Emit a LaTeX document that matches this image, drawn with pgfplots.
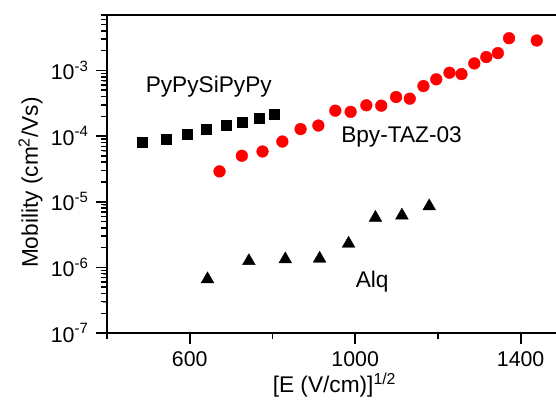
\documentclass[border=0pt]{standalone}
\usepackage{pgfplots}
\pgfplotsset{compat=1.18}
\usepackage{fontspec}
\setmainfont{Liberation Sans}
\begin{document}
\fontsize{17}{20}\selectfont
\begin{tikzpicture}
\begin{semilogyaxis}[name=ax, scale only axis, width=341.25pt, height=238.5pt,
  xmin=400, xmax=1500, ymin=1e-7, ymax=7e-3,
  xtick={600,1000,1400},
  ytick={1e-7,1e-6,1e-5,1e-4,1e-3},
  extra x ticks={400,800,1200},
  extra x tick labels={},
  extra x tick style={major tick length=4.5pt, every major tick/.style={draw=black,line width=1.1pt}},
  extra y ticks={2e-7,3e-7,4e-7,5e-7,6e-7,7e-7,8e-7,9e-7,
               2e-6,3e-6,4e-6,5e-6,6e-6,7e-6,8e-6,9e-6,
               2e-5,3e-5,4e-5,5e-5,6e-5,7e-5,8e-5,9e-5,
               2e-4,3e-4,4e-4,5e-4,6e-4,7e-4,8e-4,9e-4,
               2e-3,3e-3,4e-3,5e-3,6e-3,7e-3},
  extra y tick labels={},
  extra y tick style={major tick length=4.5pt, every major tick/.style={draw=black,line width=1.1pt}},
  tick pos=left, tick align=outside,
  major tick length=8pt,
  axis line style={line width=1.4pt},
  every major tick/.style={draw=black,line width=1.3pt},
  /pgf/number format/assume math mode=true,
  xticklabel style={/pgf/number format/1000 sep={}},
  log number format basis/.code 2 args={#1\textsuperscript{\pgfmathprintnumber{#2}}},
  tick label style={font=\fontsize{16}{19}\selectfont},
  label style={font=\fontsize{17}{20}\selectfont},
  xlabel={[E (V/cm)]\textsuperscript{1/2}},
  ylabel={Mobility (cm\textsuperscript{2}/Vs)},
  xlabel style={at={(axis description cs:0.5,-0.188)}, anchor=base},
  ylabel style={at={(axis description cs:-0.1517,0.473)}, anchor=base},
]
\addplot[only marks, mark=square*, mark size=3.75pt, black, mark options={line width=0.3pt}] coordinates {
(484,8.2e-5) (542,9.1e-5) (595,1.08e-4) (641,1.29e-4) (687,1.48e-4) (728,1.65e-4) (767,1.90e-4) (805,2.18e-4)
};
\addplot[only marks, mark=*, mark size=4.4pt, red, mark options={draw=red, fill=red, line width=0.3pt}] coordinates {
(672,2.90e-5) (726,5.02e-5) (776,5.83e-5) (824,8.27e-5) (868,1.28e-4) (911,1.45e-4) (952,2.44e-4) (989,2.34e-4)
(1027,2.95e-4) (1063,2.91e-4) (1099,3.94e-4) (1132,3.72e-4) (1165,5.79e-4) (1196,7.33e-4) (1228,9.23e-4)
(1257,8.81e-4) (1288,1.28e-3) (1317,1.60e-3) (1345,1.84e-3) (1372,3.10e-3) (1439,2.86e-3)
};
\addplot[only marks, mark=triangle*, mark size=5.5pt, black, mark options={line width=0.3pt}] coordinates {
(643,6.6e-7) (743,1.25e-6) (831,1.33e-6) (914,1.36e-6) (984,2.30e-6) (1049,5.70e-6) (1113,6.18e-6) (1179,8.55e-6)
};
\node[font=\fontsize{17}{20}\selectfont] at (axis cs:646,5.6e-4) {PyPySiPyPy};
\node[font=\fontsize{17}{20}\selectfont] at (axis cs:1112,9.75e-5) {Bpy-TAZ-03};
\node[font=\fontsize{17}{20}\selectfont] at (axis cs:1041,6.15e-7) {Alq};
\end{semilogyaxis}
\pgfresetboundingbox
\path ([shift={(-80.25pt,-57.75pt)}]ax.south west) rectangle ([shift={(-4.5pt,11.25pt)}]ax.north east);
\end{tikzpicture}
\end{document}
